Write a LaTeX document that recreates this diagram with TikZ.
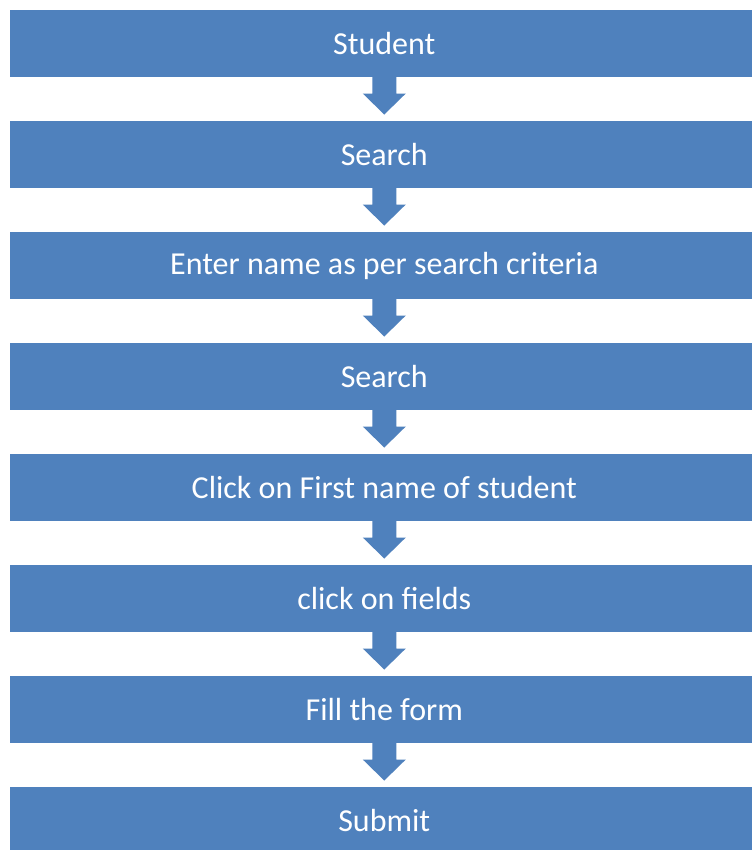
\documentclass[tikz,border=0pt]{standalone}
\usepackage{fontspec}
\setmainfont{Carlito}
\definecolor{boxblue}{HTML}{4F81BD}
\begin{document}
\begin{tikzpicture}[x=0.75pt,y=-0.75pt,
  stepbox/.style={fill=boxblue,draw=none,minimum width=748*0.75pt,minimum height=67*0.75pt,
    inner sep=0pt,text=white,font=\fontsize{24}{28}\selectfont,anchor=north west},
  downarrow/.style={fill=boxblue,draw=none}]
\useasboundingbox (0,0) rectangle (751,850);
\fill[white] (0,0) rectangle (751,850);
\foreach \i/\t in {1/Student,2/Search,3/Enter name as per search criteria,4/Search,5/Click on First name of student,6/click on fields,7/Fill the form,8/Submit}{
  \node[stepbox] (b\i) at (10,{10+111*(\i-1)}) {\t};
}
\foreach \i in {1,...,7}{
  \fill[downarrow] ([yshift=3pt]b\i.south) ++(-12,0) -- ++(0,20) -- ++(-9.5,0) -- ++(21.5,21) -- ++(21.5,-21) -- ++(-9.5,0) -- ++(0,-20) -- cycle;
}
\end{tikzpicture}
\end{document}
